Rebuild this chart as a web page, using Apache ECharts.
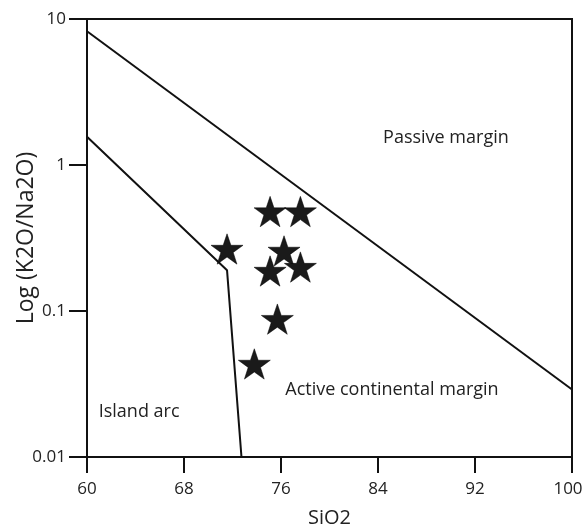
<!DOCTYPE html>
<html>
<head>
<meta charset="utf-8">
<script src="https://cdn.jsdelivr.net/npm/echarts@6/dist/echarts.min.js"></script>
<style>
  html, body { margin: 0; padding: 0; background: #fff; }
  #chart { width: 584px; height: 529px; }
</style>
</head>
<body>
<div id="chart"></div>
<script>
// Sample compositions: SiO2 (wt%) and K2O/Na2O ratio
const sio2 = [71.55, 75.1, 77.6, 76.25, 75.1, 77.6, 75.7, 73.8];
const k2oNa2o = [0.266, 0.48, 0.48, 0.258, 0.188, 0.20, 0.088, 0.0434];

// Discrimination boundaries (SiO2, K2O/Na2O)
const passiveBoundaryX = [60, 100];
const passiveBoundaryY = [8.25, 0.029];
const arcBoundaryX = [60, 71.55, 72.74];
const arcBoundaryY = [1.56, 0.19, 0.01];

// Field names and where they sit
const fieldNames = ['Passive margin', 'Active continental margin', 'Island arc'];
const fieldX = [89.6, 85.15, 64.3];
const fieldY = [1.54, 0.0287, 0.0203];

const xTicks = [60, 68, 76, 84, 92, 100];
const yTicks = [0.01, 0.1, 1, 10];

const zip = (a, b) => a.map((v, i) => [v, b[i]]);
const starPath = 'path://M50,0 L61.8,35.1 L98.9,35.1 L68.8,57 L80.2,92.7 L50,71 L19.8,92.7 L31.2,57 L1.1,35.1 L38.2,35.1 Z';
const font = '"Open Sans", "Noto Sans", sans-serif';

const chart = echarts.init(document.getElementById('chart'), null, { renderer: 'canvas' });
chart.setOption({
  animation: false,
  backgroundColor: '#fff',
  grid: {
    left: 87, right: 12, top: 19, bottom: 72,
    containLabel: false, outerBoundsMode: 'none',
    show: true, borderColor: '#111', borderWidth: 2, backgroundColor: 'transparent'
  },
  xAxis: {
    type: 'value', min: 60, max: 100, interval: 8,
    name: 'SiO2', nameLocation: 'middle', nameGap: 51, nameMoveOverlap: false,
    nameTextStyle: { fontFamily: font, fontSize: 20, color: '#222' },
    axisLine: { onZero: false, lineStyle: { color: '#111', width: 2 } },
    axisTick: { show: true, length: 16, inside: false, lineStyle: { color: '#111', width: 2 } },
    axisLabel: { fontFamily: font, fontSize: 17, color: '#222', margin: 24,
      // the last label is nudged left so it stays inside the canvas
      formatter: v => !xTicks.includes(v) ? '' : (v === 100 ? '{edge|100}' : String(v)),
      rich: { edge: { fontFamily: font, fontSize: 17, color: '#222', padding: [0, 8, 0, 0] } } },
    splitLine: { show: false }
  },
  yAxis: {
    type: 'log', logBase: 10, min: 0.01, max: 10,
    name: 'Log (K2O/Na2O)', nameLocation: 'middle', nameGap: 49, nameRotate: 90,
    nameMoveOverlap: false,
    nameTextStyle: { fontFamily: font, fontSize: 23, color: '#222' },
    axisLine: { lineStyle: { color: '#111', width: 2 } },
    axisTick: { show: true, length: 18, inside: false, lineStyle: { color: '#111', width: 2 } },
    minorTick: { show: false },
    axisLabel: { fontFamily: font, fontSize: 17, color: '#222', margin: 21,
      formatter: v => {
        const t = yTicks.find(k => Math.abs(k - v) / k < 1e-6);
        return t === undefined ? '' : String(t);
      } },
    splitLine: { show: false }
  },
  series: [
    {
      type: 'line', data: zip(passiveBoundaryX, passiveBoundaryY),
      symbol: 'none', lineStyle: { color: '#111', width: 2 }, silent: true
    },
    {
      type: 'line', data: zip(arcBoundaryX, arcBoundaryY),
      symbol: 'none', lineStyle: { color: '#111', width: 2 }, silent: true
    },
    {
      type: 'scatter', data: zip(sio2, k2oNa2o),
      symbol: starPath, symbolSize: 32, symbolKeepAspect: true,
      itemStyle: { color: '#1a1a1a', opacity: 1, borderColor: '#000', borderWidth: 0.5 },
      z: 5
    },
    {
      type: 'scatter',
      data: fieldNames.map((n, i) => ({ name: n, value: [fieldX[i], fieldY[i]] })),
      symbol: 'circle', symbolSize: 1,
      itemStyle: { color: 'rgba(0,0,0,0)', opacity: 1 },
      label: {
        show: true, position: 'inside', formatter: p => p.name,
        fontFamily: font, fontSize: 18, color: '#222'
      },
      labelLayout: { hideOverlap: false },
      silent: true
    }
  ]
});
</script>
</body>
</html>
